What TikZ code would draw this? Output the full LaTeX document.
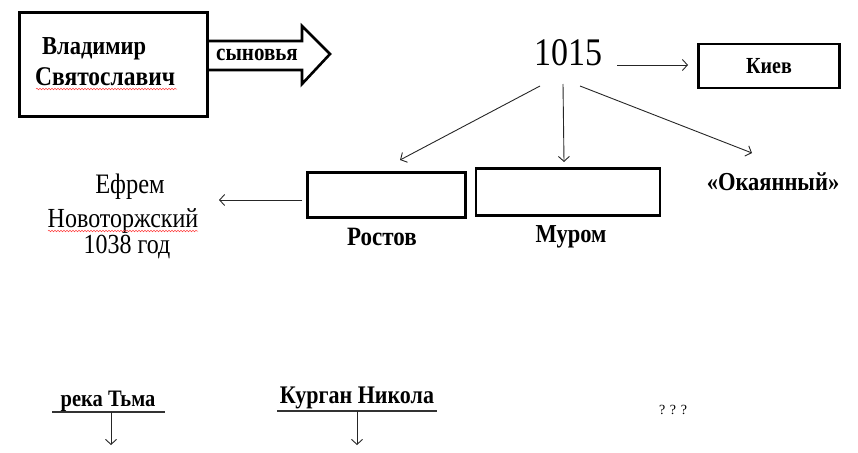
\documentclass[tikz,border=0pt]{standalone}
\usepackage{fontspec}
\usepackage{graphicx}
\setmainfont{Liberation Serif}
\usetikzlibrary{arrows.meta,decorations.pathmorphing}
\newcommand{\tallt}[1]{\scalebox{1}[1.15]{#1}}
\begin{document}
\begin{tikzpicture}[x=1pt,y=-1pt,
  thinarrow/.style={draw=black!85, line width=0.9pt, -{Straight Barb[length=5pt,width=11pt]}},
  thickbox/.style={draw=black, line width=2.6pt},
  citybox/.style={draw=black, line width=2.2pt},
  lbl/.style={inner sep=0pt, anchor=base},
  bsz/.style={font=\bfseries\fontsize{#1}{#1}\selectfont},
  rsz/.style={font=\fontsize{#1}{#1}\selectfont},
  uline/.style={draw=black!80, line width=1.8pt},
  spell/.style={draw=red!75, line width=0.5pt, decorate, decoration={snake, amplitude=0.8pt, segment length=3pt}}]
\useasboundingbox (0,0) rectangle (858,452);
% Vladimir box
\node[thickbox, minimum width=188pt, minimum height=104pt, anchor=north west] (vlad) at (18,11) {};
\node[lbl, bsz=22.5, anchor=base west] (vlad1) at (42,55) {\tallt{Владимир}};
\node[lbl, bsz=23.5, anchor=base west] (vlad2) at (35,85) {\tallt{Святославич}};
\draw[spell] (36,89) -- (177,89);
% block arrow
\draw[line width=2.6pt, line join=miter] (vlad.east |- 0,41) -- (302,41) -- (302,26) -- (330,54) -- (302,84) -- (302,70) -- (vlad.east |- 0,70);
\node[lbl, bsz=21] (sons) at (257,60) {\tallt{сыновья}};
% 1015
\node[lbl, rsz=34] (yr) at (568,65) {\tallt{1015}};
% Kiev
\node[citybox, minimum width=141pt, minimum height=44pt] (kiev) at (769,66) {};
\node[lbl, bsz=20] (kievt) at (769,73) {\tallt{Киев}};
\coordinate (kievIn) at (688,65);
\draw[thinarrow] (617,65) -- (kievIn);
% Rostov and Murom
\node[citybox, minimum width=158pt, minimum height=45pt] (rost) at (386.5,195) {};
\node[citybox, minimum width=184pt, minimum height=47pt] (murom) at (568,192) {};
\node[lbl, bsz=23] (rostt) at (382,245) {\tallt{Ростов}};
\node[lbl, bsz=22.5] (muromt) at (571,242) {\tallt{Муром}};
\node[lbl, bsz=22.5] (oka) at (773,190) {\tallt{«Окаянный»}};
\coordinate (yrL) at (540,86);
\coordinate (yrM) at (563,84);
\coordinate (yrR) at (580,86);
\coordinate (rostIn) at (400,160);
\coordinate (muromIn) at (564,162);
\coordinate (okaIn) at (752,153);
\draw[thinarrow] (yrL) -- (rostIn);
\draw[thinarrow] (yrM) -- (muromIn);
\draw[thinarrow] (yrR) -- (okaIn);
% Efrem
\node[lbl, rsz=24.5] (ef1) at (130,193) {\tallt{Ефрем}};
\node[lbl, rsz=24] (ef2) at (123,227) {\tallt{Новоторжский}};
\node[lbl, rsz=24] (ef3) at (127,253) {\tallt{1038 год}};
\draw[spell] (48,231) -- (198,231);
\coordinate (efIn) at (219,200);
\draw[thinarrow] (rost.west |- efIn) ++(-4,0) -- (efIn);
% bottom
\node[lbl, bsz=20.5] (tma) at (108,406) {\tallt{река Тьма}};
\draw[uline] (52,412) -- (165,412);
\coordinate (tmaTop) at (111,412);
\coordinate (tmaEnd) at (111,445);
\draw[thinarrow] (tmaTop) -- (tmaEnd);
\node[lbl, bsz=22] (kurg) at (357,403) {\tallt{Курган Никола}};
\draw[uline] (277,411) -- (437,411);
\coordinate (kurgTop) at (357,411);
\coordinate (kurgEnd) at (357,445);
\draw[thinarrow] (kurgTop) -- (kurgEnd);
\node[lbl, rsz=14] (qqq) at (673,414) {? ? ?};
\end{tikzpicture}
\end{document}
